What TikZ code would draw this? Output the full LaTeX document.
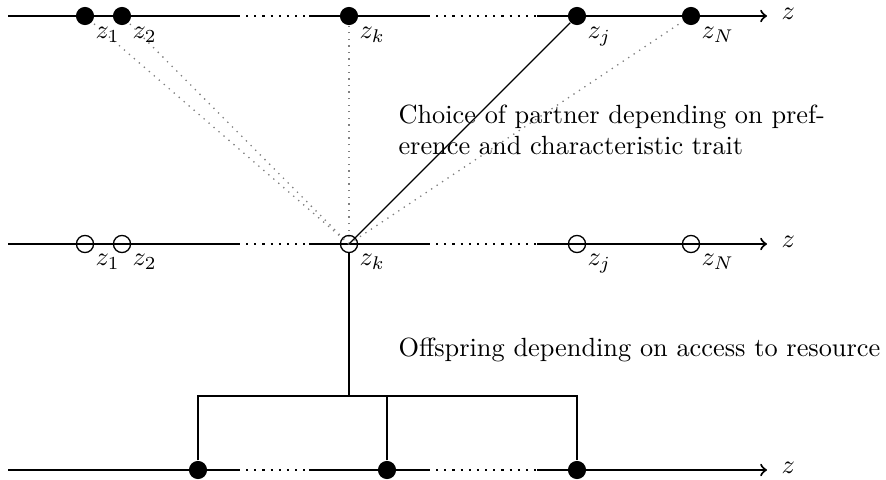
\documentclass[tikz,border=0pt]{standalone}
\usetikzlibrary{calc}
\begin{document}
\begin{tikzpicture}[x=0.38pt,y=-0.38pt,
  axis/.style={line width=0.8pt},
  axisdots/.style={line width=0.8pt,dash pattern=on 0.8pt off 2.3pt},
  fulldot/.style={circle,fill=black,inner sep=0pt,minimum size=6.9pt},
  opendot/.style={circle,draw=black,line width=0.5pt,inner sep=0pt,minimum size=6.5pt},
  lab/.style={anchor=north west,inner sep=0pt},
  choice/.style={gray,dotted,line width=0.5pt},
  link/.style={line width=0.8pt},
  txt/.style={anchor=base west,inner sep=0pt,align=left}]
\useasboundingbox (0,0) rectangle (886,480);
% axis coordinates
\foreach \r/\y in {t/16,m/244,b/470}{
  \coordinate (\r s) at (8,\y);
  \coordinate (\r g1) at (238,\y);
  \coordinate (\r g2) at (309,\y);
  \coordinate (\r g3) at (428,\y);
  \coordinate (\r g4) at (537,\y);
  \coordinate (\r e) at (767,\y);
}
% top row: filled dots
\node[fulldot] (t1) at (85,16) {};
\node[fulldot] (t2) at (122,16) {};
\node[fulldot] (tk) at (349,16) {};
\node[fulldot] (tj) at (577,16) {};
\node[fulldot] (tN) at (691,16) {};
% middle row: open circles
\node[opendot] (m1) at (85,244) {};
\node[opendot] (m2) at (122,244) {};
\node[opendot] (mk) at (349,244) {};
\node[opendot] (mj) at (577,244) {};
\node[opendot] (mN) at (691,244) {};
% bottom row
\node[fulldot] (b1) at (198,470) {};
\node[fulldot] (b2) at (387,470) {};
\node[fulldot] (b3) at (577,470) {};
% axes
\foreach \r in {t,m,b}{
  \draw[axis] (\r s) -- (\r g1);
  \draw[axisdots] (\r g1) -- (\r g2);
  \draw[axis] (\r g2) -- (\r g3);
  \draw[axisdots] (\r g3) -- (\r g4);
  \draw[axis,->] (\r g4) -- (\r e);
  \node[anchor=west,inner sep=0pt] (\r z) at ($(\r e)+(14,-2)$) {$z$};
}
% partner choice lines
\draw[choice] (mk.center) -- (t1);
\draw[choice] (mk.center) -- (t2);
\draw[choice] (mk.center) -- (tk);
\draw[choice] (mk.center) -- (tN);
\draw[line width=0.5pt] (mk.center) -- (tj);
% offspring tree
\coordinate (split) at (349,396);
\draw[link] (mk) -- (split);
\draw[link] (b1) |- (split) -| (b3);
\draw[link] (b2) -- (b2 |- split);
% labels
\node[lab] (lt1) at ($(t1)+(10,11)$) {$z_1$};
\node[lab] (lt2) at ($(t2)+(10,11)$) {$z_2$};
\node[lab] (ltk) at ($(tk)+(10,11)$) {$z_k$};
\node[lab] (ltj) at ($(tj)+(10,11)$) {$z_j$};
\node[lab] (ltN) at ($(tN)+(10,11)$) {$z_N$};
\node[lab] (lm1) at ($(m1)+(10,10)$) {$z_1$};
\node[lab] (lm2) at ($(m2)+(10,10)$) {$z_2$};
\node[lab] (lmk) at ($(mk)+(10,10)$) {$z_k$};
\node[lab] (lmj) at ($(mj)+(10,10)$) {$z_j$};
\node[lab] (lmN) at ($(mN)+(10,10)$) {$z_N$};
% texts
\node[txt] (choicetext) at (398,155) {Choice of partner depending on pref-\\erence and characteristic trait};
\node[txt] (offtext) at (398,357) {Offspring depending on access to resource};
\end{tikzpicture}
\end{document}
